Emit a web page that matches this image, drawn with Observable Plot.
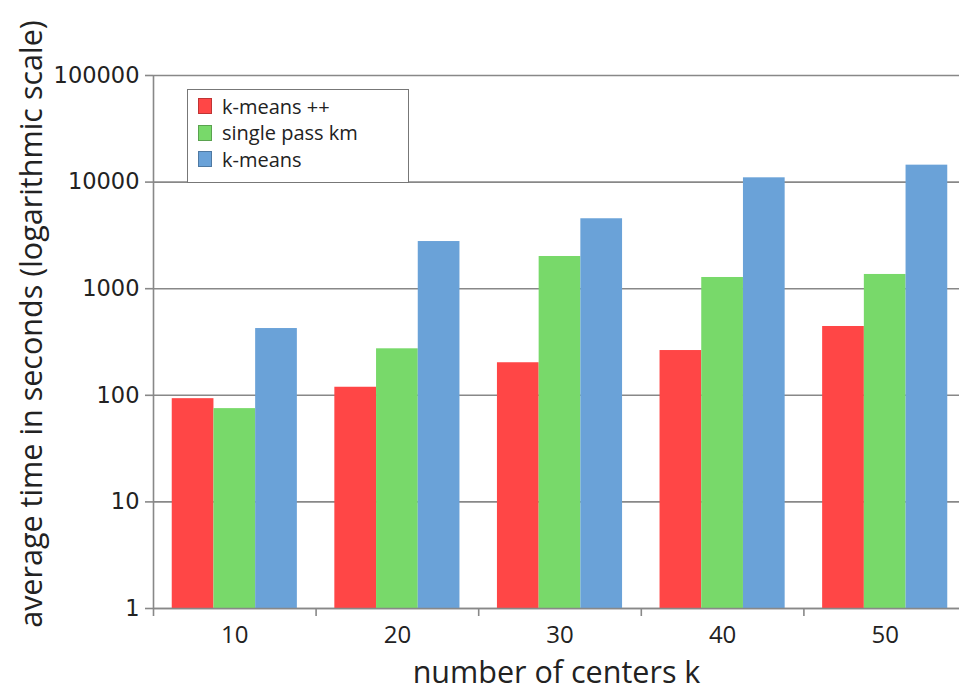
<!DOCTYPE html>
<html>
<head>
<meta charset="utf-8">
<script src="https://cdn.jsdelivr.net/npm/d3@7"></script>
<script src="https://cdn.jsdelivr.net/npm/@observablehq/plot@0.6"></script>
<style>
  html, body { margin: 0; padding: 0; background: #fff; overflow: hidden; }
  #wrap { position: relative; width: 959px; height: 692px; }
  #legend {
    position: absolute; left: 187px; top: 89px; width: 222px; height: 94px;
    border: 1px solid #777; background: #fff; box-sizing: border-box;
    font-family: "Open Sans", sans-serif; font-size: 20px; color: #222;
    padding-top: 3px;
  }
  .row { display: flex; align-items: center; height: 26.5px; padding-left: 10px; }
  .sw { width: 14px; height: 16px; margin-right: 10px; box-sizing: border-box; border: 1px solid rgba(0,0,0,0.25); }
</style>
</head>
<body>
<div id="wrap"></div>
<script>
const ks = [10, 20, 30, 40, 50];
const seriesNames = ["k-means ++", "single pass km", "k-means"];
const kmeansPP = [93, 119, 202, 263, 442];
const singlePass = [75, 273, 2005, 1274, 1360];
const kmeans = [423, 2770, 4530, 10970, 14420];
const yTicks = [1, 10, 100, 1000, 10000, 100000];
const colors = ["#ff4646", "#78d96a", "#6aa2d8"];

const seriesValues = [kmeansPP, singlePass, kmeans];
const rows = [];
ks.forEach((k, i) => seriesNames.forEach((s, j) => rows.push({k, i, j, series: s, value: seriesValues[j][i]})));

// band layout within each group (group i occupies [i, i+1] on the x scale)
const barW = 0.2565, offset = (1 - 3 * barW) / 2;

const plot = Plot.plot({
  width: 959,
  height: 692,
  marginTop: 75,
  marginBottom: 84,
  marginLeft: 153,
  marginRight: 0,
  style: {background: "#fff", overflow: "visible"},
  x: {type: "linear", domain: [0, 5], range: [153, 966]},
  y: {type: "log", domain: [1, 100000]},
  color: {domain: seriesNames, range: colors},
  marks: [
    Plot.ruleY(yTicks, {stroke: "#888", strokeWidth: 1.6}),
    Plot.rectY(rows, {
      x1: d => d.i + offset + d.j * barW,
      x2: d => d.i + offset + (d.j + 1) * barW,
      y1: 1, y2: "value", fill: "series"
    }),
    Plot.ruleX([0], {stroke: "#888", strokeWidth: 1.6}),
    Plot.ruleY([1], {stroke: "#888", strokeWidth: 1.6}),
    Plot.axisY({ticks: yTicks, tickFormat: d => String(d), tickSize: 8, tickPadding: 6,
      fontSize: 22.5, fontFamily: "DejaVu Sans", color: "#222", stroke: "#888", strokeWidth: 1.6, label: null}),
    Plot.axisX({ticks: [0, 1, 2, 3, 4], tickFormat: () => "", tickSize: 8, stroke: "#888", strokeWidth: 1.6, label: null}),
    Plot.axisX({ticks: ks.map((k, i) => i + 0.5), tickFormat: (d) => String(ks[Math.floor(d)]),
      tickSize: 0, tickPadding: 17, fontSize: 24, fontFamily: "Open Sans", color: "#222", label: null}),
    Plot.text(["average time in seconds (logarithmic scale)"], {
      frameAnchor: "left", dx: -121, dy: -18, rotate: -90, text: d => d, textAnchor: "middle",
      fontSize: 30.5, fontFamily: "Open Sans", fill: "#222", lineAnchor: "middle"
    }),
    Plot.text(["number of centers k"], {
      frameAnchor: "bottom", dy: 65, text: d => d, textAnchor: "middle",
      fontSize: 30.5, fontFamily: "Open Sans", fill: "#222", lineAnchor: "middle"
    })
  ]
});

const wrap = document.getElementById("wrap");
wrap.appendChild(plot);

const legend = document.createElement("div");
legend.id = "legend";
seriesNames.forEach((s, j) => {
  const row = document.createElement("div");
  row.className = "row";
  const sw = document.createElement("span");
  sw.className = "sw";
  sw.style.background = colors[j];
  const t = document.createElement("span");
  t.textContent = s;
  row.appendChild(sw);
  row.appendChild(t);
  legend.appendChild(row);
});
wrap.appendChild(legend);
</script>
</body>
</html>
